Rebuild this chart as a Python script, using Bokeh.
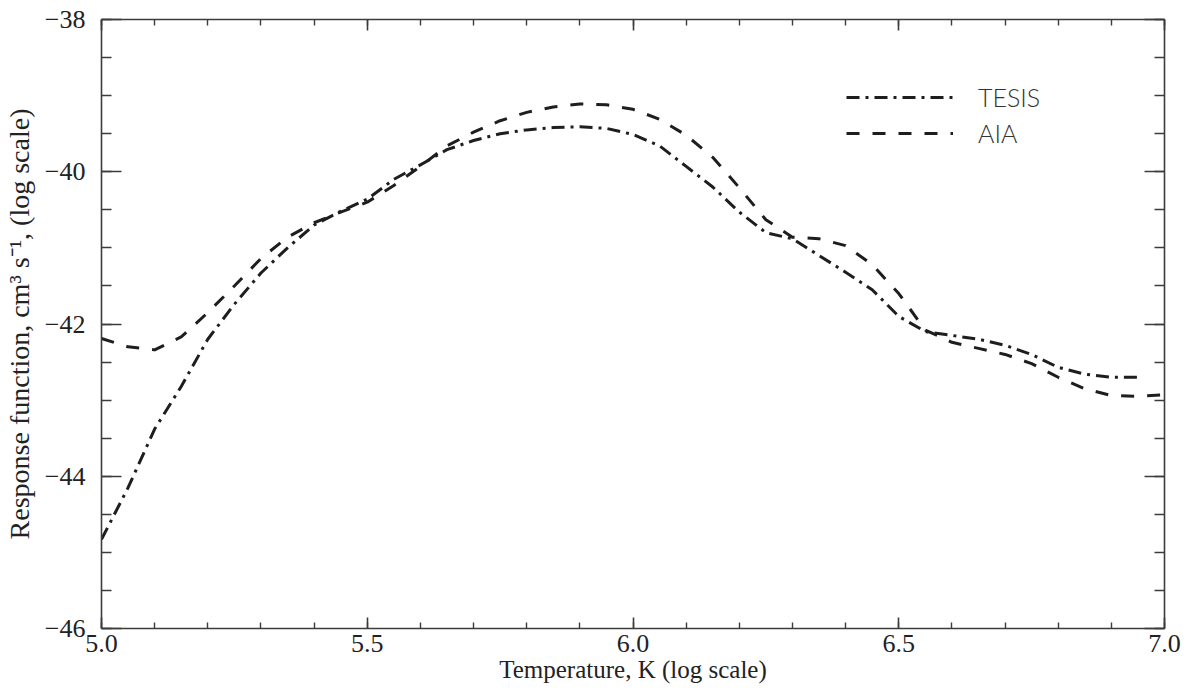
from bokeh.plotting import figure
from bokeh.models import (LinearAxis, SingleIntervalTicker, Range1d, Legend,
                          LegendItem, CustomJSTickFormatter, ColumnDataSource)
from bokeh.embed import file_html
from bokeh.resources import INLINE

# ---- data ----
tesis_logT = [5.00, 5.05, 5.10, 5.15, 5.20, 5.25, 5.30, 5.35, 5.40, 5.45,
              5.50, 5.55, 5.60, 5.65, 5.70, 5.75, 5.80, 5.85, 5.90, 5.95,
              6.00, 6.05, 6.10, 6.15, 6.20, 6.25, 6.30, 6.35, 6.40, 6.45,
              6.50, 6.55, 6.60, 6.65, 6.70, 6.75, 6.80, 6.85, 6.90, 6.95]
tesis_resp = [-44.83, -44.15, -43.38, -42.82, -42.20, -41.74, -41.33, -41.00, -40.70, -40.52,
              -40.36, -40.10, -39.91, -39.71, -39.59, -39.50, -39.45, -39.42, -39.41, -39.43,
              -39.51, -39.66, -39.93, -40.20, -40.53, -40.80, -40.88, -41.10, -41.32, -41.55,
              -41.90, -42.10, -42.15, -42.20, -42.28, -42.40, -42.57, -42.66, -42.70, -42.70]

aia_logT = [5.00, 5.05, 5.10, 5.15, 5.20, 5.25, 5.30, 5.35, 5.40, 5.45,
            5.50, 5.55, 5.60, 5.65, 5.70, 5.75, 5.80, 5.85, 5.90, 5.95,
            6.00, 6.05, 6.10, 6.15, 6.20, 6.25, 6.30, 6.35, 6.40, 6.45,
            6.50, 6.55, 6.60, 6.65, 6.70, 6.75, 6.80, 6.85, 6.90, 6.95, 7.00]
aia_resp = [-42.19, -42.30, -42.34, -42.17, -41.85, -41.50, -41.14, -40.86, -40.67, -40.53,
            -40.40, -40.18, -39.93, -39.66, -39.48, -39.33, -39.22, -39.15, -39.11, -39.12,
            -39.18, -39.31, -39.52, -39.81, -40.21, -40.63, -40.86, -40.88, -40.97, -41.22,
            -41.60, -42.08, -42.24, -42.32, -42.40, -42.52, -42.70, -42.85, -42.94, -42.95, -42.93]

series_names = ["TESIS", "AIA"]
x_title = "Temperature, K (log scale)"
y_title = "Response function, cm³ s⁻¹, (log scale)"

AXIS_COLOR = "#3c3c3c"
LINE_COLOR = "#1e1e1e"
TEXT_COLOR = "#222222"
SERIF = "Liberation Serif"

p = figure(width=1196, height=694,
           min_border_left=100, min_border_right=32,
           min_border_top=19, min_border_bottom=66,
           x_range=Range1d(5.0, 7.0), y_range=Range1d(-46, -38),
           output_backend="svg", toolbar_location=None,
           x_axis_location=None, y_axis_location=None)
p.outline_line_color = None
p.xgrid.visible = False
p.ygrid.visible = False
p.background_fill_color = "white"
p.border_fill_color = "white"

x_fmt = CustomJSTickFormatter(code="return tick.toFixed(1);")
y_fmt = CustomJSTickFormatter(code="return tick.toFixed(0).replace('-', '\u2212');")


def style_axis(ax, major_len, minor_len):
    ax.major_tick_in = major_len
    ax.major_tick_out = 0
    ax.minor_tick_in = minor_len
    ax.minor_tick_out = 0
    ax.axis_line_color = AXIS_COLOR
    ax.major_tick_line_color = AXIS_COLOR
    ax.minor_tick_line_color = AXIS_COLOR
    ax.axis_line_width = 1.6
    ax.major_tick_line_width = 1.6
    ax.minor_tick_line_width = 1.4


def blank_labels(ax):
    ax.major_label_text_font_size = "0px"
    ax.major_label_text_alpha = 0
    ax.major_label_standoff = 0


# bottom axis (labelled)
xb = LinearAxis(ticker=SingleIntervalTicker(interval=0.5, num_minor_ticks=5))
style_axis(xb, 11, 6)
xb.formatter = x_fmt
xb.axis_label = x_title
xb.axis_label_text_font = SERIF
xb.axis_label_text_font_size = "25px"
xb.axis_label_text_font_style = "normal"
xb.axis_label_text_color = TEXT_COLOR
xb.axis_label_standoff = 1
xb.major_label_text_font = SERIF
xb.major_label_text_font_size = "26px"
xb.major_label_text_color = TEXT_COLOR
xb.major_label_standoff = 6
p.add_layout(xb, "below")

# top axis (ticks only)
xt = LinearAxis(ticker=SingleIntervalTicker(interval=0.5, num_minor_ticks=5))
style_axis(xt, 11, 6)
blank_labels(xt)
p.add_layout(xt, "above")

# left axis (labelled)
yl = LinearAxis(ticker=SingleIntervalTicker(interval=2, num_minor_ticks=4))
style_axis(yl, 20, 10)
yl.formatter = y_fmt
yl.axis_label = y_title
yl.axis_label_text_font = SERIF
yl.axis_label_text_font_size = "28px"
yl.axis_label_text_font_style = "normal"
yl.axis_label_text_color = TEXT_COLOR
yl.axis_label_standoff = 7
yl.major_label_text_font = SERIF
yl.major_label_text_font_size = "26px"
yl.major_label_text_color = TEXT_COLOR
yl.major_label_standoff = 16
p.add_layout(yl, "left")

# right axis (ticks only)
yr = LinearAxis(ticker=SingleIntervalTicker(interval=2, num_minor_ticks=4))
style_axis(yr, 20, 10)
blank_labels(yr)
p.add_layout(yr, "right")

src_t = ColumnDataSource(dict(x=tesis_logT, y=tesis_resp))
src_a = ColumnDataSource(dict(x=aia_logT, y=aia_resp))

r_t = p.line("x", "y", source=src_t, line_color=LINE_COLOR, line_width=3,
             line_dash="13 6 3 6", line_join="round")
r_a = p.line("x", "y", source=src_a, line_color=LINE_COLOR, line_width=3,
             line_dash="13 13", line_join="round")

legend = Legend(items=[LegendItem(label=series_names[0], renderers=[r_t]),
                       LegendItem(label=series_names[1], renderers=[r_a])])
legend.location = (745, 477)
legend.padding = 0
legend.margin = 0
legend.spacing = 0
legend.glyph_width = 107
legend.glyph_height = 36
legend.label_height = 36
legend.label_standoff = 25
legend.label_text_font = "Lato Light, Lato"
legend.label_text_font_size = "25px"
legend.label_text_color = "#333333"
legend.background_fill_alpha = 0
legend.border_line_alpha = 0
p.add_layout(legend)

open("out.html", "w").write(file_html(p, INLINE))
